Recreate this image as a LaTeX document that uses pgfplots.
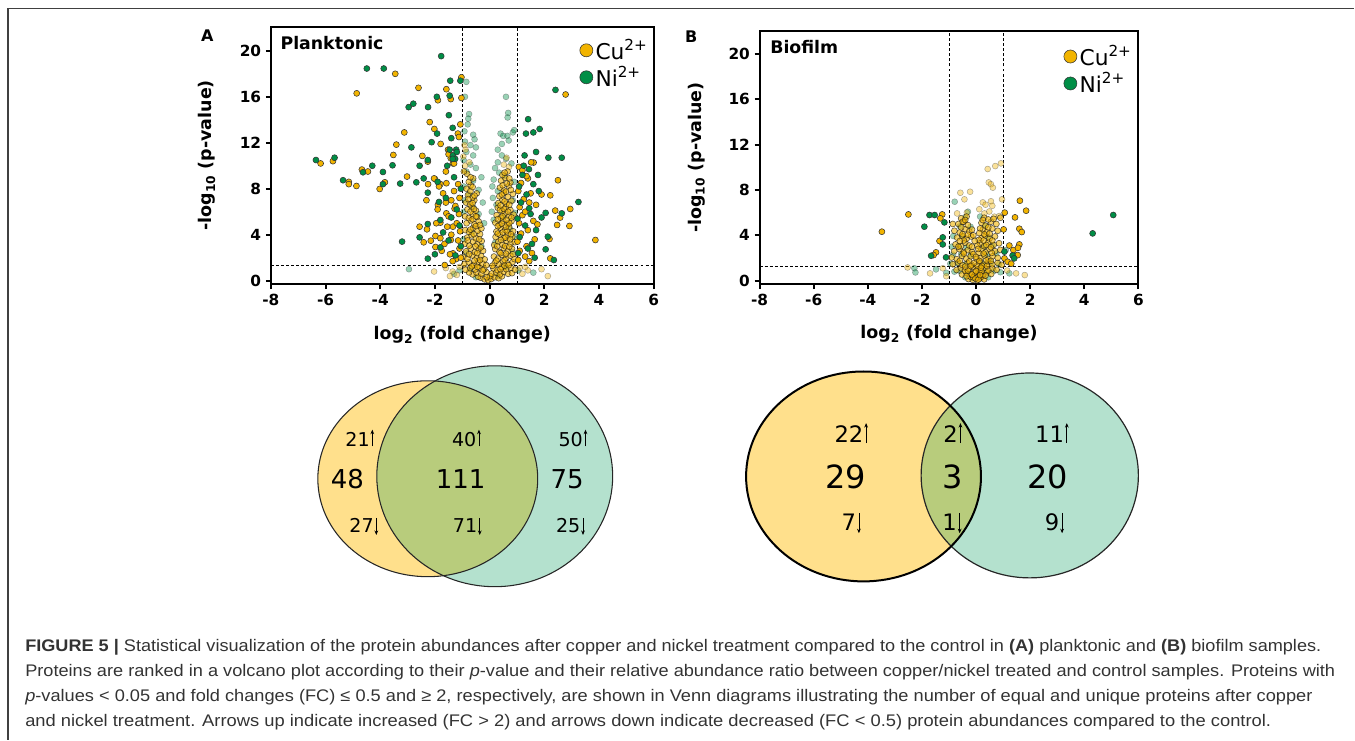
\documentclass[border=0pt]{standalone}
\usepackage{pgfplots}
\pgfplotsset{compat=1.18}
\usetikzlibrary{arrows.meta}
\usepackage{fontspec}
\setmainfont{Liberation Sans}
\newfontfamily\figfont{DejaVu Sans}
\definecolor{cuC}{RGB}{242,180,0}
\definecolor{niC}{RGB}{0,142,70}
\definecolor{vYel}{RGB}{255,224,140}
\definecolor{vTeal}{RGB}{180,225,206}
\definecolor{vOlive}{RGB}{184,204,124}
\newcommand\up{\hspace{0.04em}\tikz[baseline=0pt]\draw[line width=0.55pt,-{Stealth[length=3.4pt,width=2.8pt]}] (0,-0.02em)--(0,0.86em);}
\newcommand\dn{\hspace{0.04em}\tikz[baseline=0pt]\draw[line width=0.55pt,-{Stealth[length=3.4pt,width=2.8pt]}] (0,0.76em)--(0,-0.14em);}
% stretch one caption line to a given width (pt)
\newsavebox\capbox
\newcommand\fitline[2]{\sbox\capbox{#2}\pgfmathsetmacro\capsc{#1/\wd\capbox}\scalebox{\capsc}[1]{\usebox\capbox}}

\pgfplotsset{
  volc/.style={
    scale only axis,
    xmin=-8, xmax=6, ymin=-0.3,
    xtick={-8,-6,-4,-2,0,2,4,6}, xticklabels={-8,-6,-4,-2,0,2,4,6},
    ytick={0,4,8,12,16,20}, yticklabels={0,4,8,12,16,20},
    xtick pos=bottom, ytick pos=left,
    tick align=outside, major tick length=3.75pt,
    axis line style={line width=1.5pt},
    every tick/.style={line width=1.5pt, black},
    ticklabel style={font={\figfont\bfseries\fontsize{11.5}{13}\selectfont}},
    label style={font={\figfont\bfseries\fontsize{13.1}{15}\selectfont}},
    xlabel={log\textsubscript{2} (fold change)},
    ylabel={-log\textsubscript{10} (p-value)},
    xlabel style={at={(axis description cs:0.5,-0.197)}, anchor=center},
    ylabel style={at={(axis description cs:-0.167,0.5)}, anchor=center},
    legend style={draw=none, fill=none, anchor=north west,
      font={\figfont\fontsize{16.3}{18}\selectfont}, row sep=0pt,
      cells={anchor=west}},
    legend image code/.code={\draw[mark repeat=2,mark phase=2]
      plot coordinates {(0cm,0cm) (0.3cm,0cm) (0.44cm,0cm)};},
    legend image post style={mark size=4.9pt, opacity=1, fill opacity=1, draw opacity=1},
  },
  ns/.style={only marks, mark=*, mark size=2.25pt,
    mark options={draw=black!75, line width=0.35pt, fill=#1, fill opacity=0.4, draw opacity=0.45}},
  nsc/.style={only marks, mark=*, mark size=2.25pt,
    mark options={draw=black!90, line width=0.4pt, fill=#1, fill opacity=0.6, draw opacity=0.75}},
  sg/.style={only marks, mark=*, mark size=2.25pt,
    mark options={draw=black!80, line width=0.4pt, fill=#1}},
  thr/.style={black, line width=0.6pt, dash pattern=on 2.2pt off 1.6pt, forget plot},
}

\begin{document}
\begin{tikzpicture}[x=0.75pt,y=-0.75pt]
\path (0,0) rectangle (1355,740);
\draw[line width=1.1pt, black!75] (8,740) -- (8,8.5) -- (1355,8.5);

% ---------------- Panel A : planktonic ----------------
\begin{axis}[volc, at={(203.25pt,-213.225pt)}, anchor=south west,
  width=287.25pt, height=193.2pt, ymax=22.1,
  legend style={at={(axis description cs:0.796,0.972)}}]
\addplot[thr] coordinates {(-1,-0.3) (-1,22.1)};
\addplot[thr] coordinates {(1,-0.3) (1,22.1)};
\addplot[thr] coordinates {(-8,1.3) (6,1.3)};
% not significant, Ni
\addplot[ns=niC, forget plot] coordinates {
(-0.85,17.3)(-0.9,16.0)(-0.75,14.5)(-0.78,14.1)(-0.8,13.6)(-0.92,13.0)(-0.6,12.7)(-0.55,12.3)
(-0.9,12.1)(-0.7,11.8)(-0.5,11.6)(-0.85,11.2)(-0.6,10.9)(-0.95,10.5)(-0.7,10.1)(-0.5,9.8)(-0.85,9.5)
(0.6,16.0)(0.68,14.6)(0.66,14.2)(0.4,12.8)(0.5,12.6)(0.65,12.6)(0.7,12.2)(0.85,12.9)(0.9,13.1)
(0.45,11.9)(0.3,11.4)(0.45,10.9)(0.6,10.6)(0.3,10.3)(0.8,10.2)(0.2,9.8)(0.35,9.4)(0.55,9.1)
(0.15,8.8)(0.1,8.2)(0.3,7.8)(-0.3,9.0)(-0.6,8.7)(-0.95,8.2)(-0.4,7.9)(-0.75,7.5)(-0.9,7.0)
(-0.25,6.8)(-0.6,6.4)(-0.95,6.0)(0.12,7.2)(0.25,6.6)(0.08,6.0)(0.9,8.6)(0.85,7.0)(0.92,5.9)
(-0.5,0.3)(0.3,0.4)(-0.7,1.0)(0.6,1.2)(-0.85,2.4)(0.85,2.5)(-0.3,3.0)(0.2,3.3)(-0.65,4.2)
(0.75,4.5)(-0.2,5.0)(0.15,5.3)(-0.95,3.6)(0.95,3.8)(-0.4,5.8)(0.5,5.5)
(-2.95,1.0)(-1.1,0.9)(1.05,0.9)(-1.3,0.6)(1.6,0.7)};
% not significant, Cu, outside the core
\addplot[ns=cuC, forget plot] coordinates {
(-2.03,0.8)(1.9,1.0)(2.13,0.4)(1.4,0.9)(-1.6,1.1)(-1.35,0.8)(1.2,0.6)(-1.2,0.5)(1.1,1.1)(-1.1,1.2)(1.3,1.2)(-1.45,0.4)
(-0.96,10.8)(0.62,10.7)(-0.88,11.4)(-0.92,11.8)(-0.9,10.0)(-0.74,10.3)(0.52,10.1)(0.71,9.9)};
% not significant, Cu, core
\addplot[nsc=cuC, forget plot] coordinates {
(-0.32,0.25)(-0.18,0.12)(-0.05,0.05)(0.06,0.15)(0.18,0.3)(0.33,0.22)(-0.42,0.35)(0.45,0.38)(0.02,0.4)(-0.1,0.3)
(-0.62,0.55)(-0.48,0.7)(-0.3,0.6)(-0.12,0.75)(0.08,0.62)(0.24,0.7)(0.38,0.55)(0.52,0.78)(0.68,0.6)(-0.75,0.72)(0.82,0.66)
(-0.88,0.95)(-0.71,1.1)(-0.52,0.98)(-0.36,1.15)(-0.2,1.02)(0.14,1.08)(0.29,0.92)(0.44,1.18)(0.61,1.0)(0.78,1.12)(0.93,0.96)
(-0.92,1.45)(-0.76,1.6)(-0.57,1.38)(-0.41,1.66)(-0.26,1.5)(-0.12,1.35)(0.19,1.55)(0.34,1.42)(0.49,1.68)(0.66,1.5)(0.84,1.62)
(-0.96,2.05)(-0.81,1.9)(-0.63,2.2)(-0.47,1.95)(-0.31,2.15)(-0.18,1.85)(0.16,2.1)(0.31,1.92)(0.46,2.25)(0.61,2.0)(0.76,2.18)(0.91,1.88)
(-0.86,2.55)(-0.69,2.8)(-0.54,2.48)(-0.39,2.72)(-0.24,2.6)(0.21,2.75)(0.36,2.5)(0.52,2.85)(0.67,2.58)(0.82,2.78)
(-0.91,3.2)(-0.74,3.05)(-0.6,3.38)(-0.45,3.15)(-0.29,3.45)(0.17,3.1)(0.32,3.4)(0.47,3.12)(0.62,3.48)(0.77,3.22)(0.92,3.35)
(-0.82,3.75)(-0.66,3.95)(-0.5,3.68)(-0.35,4.05)(0.22,3.8)(0.37,4.02)(0.52,3.7)(0.67,3.98)(0.83,3.82)
(-0.89,4.4)(-0.75,4.25)(-0.6,4.6)(-0.44,4.35)(-0.3,4.55)(0.25,4.28)(0.4,4.62)(0.56,4.4)(0.71,4.68)(0.86,4.3)
(-0.84,5.0)(-0.69,5.25)(-0.55,4.9)(-0.4,5.15)(0.21,5.05)(0.36,4.85)(0.5,5.22)(0.65,4.95)(0.8,5.18)
(-0.9,5.6)(-0.76,5.45)(-0.61,5.8)(-0.46,5.55)(0.26,5.7)(0.41,5.48)(0.56,5.85)(0.71,5.6)(0.88,5.75)
(-0.81,6.2)(-0.66,6.45)(-0.5,6.1)(0.3,6.35)(0.45,6.05)(0.6,6.4)(0.76,6.15)
(-0.86,6.8)(-0.71,6.65)(-0.56,7.0)(0.32,6.75)(0.47,7.05)(0.62,6.7)(0.8,6.95)
(-0.79,7.45)(-0.62,7.25)(-0.47,7.6)(0.36,7.35)(0.52,7.62)(0.67,7.3)(0.85,7.55)
(-0.84,8.0)(-0.69,8.3)(0.38,8.1)(0.53,7.85)(0.71,8.25)
(-0.76,8.6)(-0.6,8.9)(0.42,8.7)(0.57,8.95)(0.76,8.55)
(-0.82,9.3)(-0.94,9.5)(0.47,9.2)(0.66,9.5)
(-0.25,0.9)(0.1,1.3)(-0.45,1.2)(0.4,1.0)(0.55,1.3)(-0.65,1.25)(0.7,1.35)(-0.35,1.8)(0.25,1.75)
(0.55,1.8)(-0.55,1.75)(0.85,2.3)(-0.75,2.3)(-0.45,2.4)(0.4,2.4)(0.6,2.35)(-0.32,2.9)(0.28,3.0)
(0.57,3.0)(-0.52,3.0)(0.72,2.95)(-0.8,3.5)(-0.38,3.6)(0.42,3.55)(0.58,3.75)(0.75,3.6)(-0.58,4.05)
(-0.7,4.45)(0.3,4.1)(0.48,4.2)(0.63,4.3)(0.78,4.05)(-0.5,4.75)(-0.35,4.85)(0.3,4.75)(0.45,4.95)
(0.6,4.7)(0.72,5.0)(-0.62,5.35)(-0.5,5.6)(0.3,5.35)(0.48,5.6)(0.62,5.3)(0.8,5.5)(-0.7,6.0)
(-0.57,6.25)(0.38,6.15)(0.52,6.25)(0.68,6.0)(-0.62,6.75)(-0.78,7.1)(0.4,6.55)(0.55,6.9)(0.72,6.6)
(-0.7,7.8)(-0.55,7.4)(0.45,7.5)(0.6,7.75)(0.78,7.9)(-0.62,8.15)(0.48,8.3)(0.63,8.45)(-0.7,9.0)
(0.55,9.4)(0.72,8.9)};
% significant, Cu
\addplot[sg=cuC] coordinates {
(-6.18,10.2)(-5.73,10.4)(-5.15,8.6)(-5.15,8.4)(-4.87,8.24)(-4.86,16.3)(-4.67,9.67)(-4.45,9.5)
(-4.02,7.98)(-3.83,8.56)(-3.45,18.0)(-3.41,11.84)(-3.52,10.94)(-3.12,12.9)(-3.02,9.06)(-2.6,16.78)
(-2.46,10.86)(-2.26,10.36)(-2.19,13.8)(-2.02,13.2)(-1.79,11.9)(-1.89,15.7)(-1.58,16.66)(-1.42,15.8)
(-1.03,17.7)(-1.03,15.9)(-1.07,13.6)(-2.25,8.4)(-2.0,8.85)(-2.31,7.0)(-2.56,4.7)(-2.29,4.47)
(-2.41,3.34)(-2.15,3.48)(-1.98,3.89)(-1.98,2.93)(-2.03,8.9)(-1.8,8.4)(-1.58,8.48)(-1.89,6.6)
(-1.4,7.0)(-1.58,5.86)(-1.28,6.27)(-1.8,5.05)(-1.34,4.7)(-1.42,3.54)(-1.34,2.38)(-1.22,1.89)
(-1.64,1.36)(-1.52,11.4)(-1.48,11.1)(-1.42,10.65)(-1.34,10.2)(-1.16,12.8)(-1.12,12.5)
(-1.05,2.0)(-1.1,2.8)(-1.15,3.5)(-1.08,4.3)(-1.2,5.0)(-1.12,5.8)(-1.25,6.5)(-1.1,7.2)(-1.3,7.8)
(-1.15,8.4)(-1.4,4.0)(-1.45,2.3)(-1.5,5.6)(-1.6,6.8)(-1.35,1.7)(-1.65,3.2)(-1.55,4.7)(-1.7,7.6)
(-1.75,2.6)(-1.85,8.2)(-1.9,6.2)(-1.95,5.0)(-1.8,3.7)(-1.6,9.5)(-1.3,10.2)(-1.5,11.0)
(2.78,16.2)(2.5,8.74)(2.22,7.43)(2.4,6.1)(2.95,6.24)(2.58,5.49)(2.47,4.85)(2.92,4.76)(3.87,3.54)
(2.19,3.63)(2.22,1.94)(1.61,10.28)(1.07,9.9)
(1.05,1.8)(1.1,2.6)(1.02,3.4)(1.15,4.1)(1.08,5.0)(1.2,5.7)(1.1,6.4)(1.25,7.1)(1.05,7.8)(1.15,8.5)
(1.3,2.1)(1.35,3.0)(1.4,4.4)(1.3,6.0)(1.45,6.8)(1.5,7.6)(1.4,8.9)(1.6,5.2)(1.65,3.6)(1.55,2.4)
(1.7,6.6)(1.75,4.9)(1.45,1.7)(1.2,9.6)(1.35,9.1)(1.52,10.3)(1.9,7.5)};
\addlegendentry{Cu\textsuperscript{2+}}
% significant, Ni
\addplot[sg=niC] coordinates {
(-6.35,10.5)(-5.67,10.7)(-5.36,8.74)(-4.49,18.46)(-3.87,18.46)(-4.29,10.0)(-4.63,9.43)(-3.9,9.46)
(-3.55,10.04)(-3.9,8.4)(-3.27,8.45)(-3.2,3.4)(-2.96,15.1)(-2.79,15.4)(-2.86,11.6)(-2.68,8.56)
(-2.56,10.0)(-2.25,15.1)(-2.12,12.05)(-1.92,12.8)(-1.93,16.0)(-1.77,19.54)(-1.46,16.1)(-1.49,14.4)
(-1.44,17.4)(-1.35,13.3)(-1.07,17.4)(-2.26,10.5)(-2.41,8.9)(-2.26,7.66)(-1.85,6.85)(-2.56,3.77)
(-2.26,4.93)(-2.26,1.92)(-1.8,5.28)(-2.0,2.3)(-1.46,11.4)(-1.22,11.4)(-1.34,10.9)(-1.26,10.6)
(-1.05,3.0)(-1.1,4.8)(-1.2,6.2)(-1.05,8.0)(-1.3,9.0)(-1.4,5.5)(-1.5,3.5)(-1.25,2.2)(-1.6,7.2)
(-1.7,4.2)(-1.8,2.9)(-1.35,10.6)(-1.55,10.0)(-1.2,11.2)(-1.4,12.4)(-1.9,8.6)
(1.41,14.05)(1.33,12.8)(1.6,12.9)(1.83,13.2)(2.41,16.6)(1.7,11.2)(2.15,10.7)(2.64,10.7)(1.28,10.9)
(1.77,9.2)(1.44,9.7)(3.25,6.85)(2.64,5.86)(2.05,5.9)(2.13,3.83)(2.05,2.73)(2.35,1.8)
(1.05,2.4)(1.1,3.8)(1.02,5.4)(1.15,6.8)(1.08,8.2)(1.2,9.2)(1.3,4.8)(1.35,7.5)(1.4,2.8)(1.5,5.8)
(1.25,10.0)(1.6,8.4)(1.55,3.2)(1.7,4.4)(1.45,6.3)(1.8,7.8)(1.65,2.0)(1.9,5.5)};
\addlegendentry{Ni\textsuperscript{2+}}
\end{axis}

% ---------------- Panel B : biofilm ----------------
\begin{axis}[volc, at={(570pt,-213.225pt)}, anchor=south west,
  width=284.25pt, height=189.98pt, ymax=22.0,
  legend style={at={(axis description cs:0.792,0.964)}}]
\addplot[thr] coordinates {(-1,-0.3) (-1,22)};
\addplot[thr] coordinates {(1,-0.3) (1,22)};
\addplot[thr] coordinates {(-8,1.3) (6,1.3)};
\addplot[ns=niC, forget plot] coordinates {
(-0.4,0.3)(-0.15,0.25)(0.2,0.35)(0.45,0.3)(-0.8,0.8)(-0.6,0.85)(-0.3,0.75)(0.35,0.8)(0.65,0.85)(0.9,0.75)
(-0.95,1.5)(-0.7,1.55)(-0.4,1.45)(0.25,1.5)(0.55,1.6)(0.85,1.45)(-0.85,2.3)(-0.55,2.35)(-0.2,2.25)
(0.4,2.3)(0.75,2.4)(-0.9,3.0)(-0.65,3.05)(-0.35,2.95)(0.3,3.0)(0.6,3.1)(-0.84,3.94)(-0.5,3.9)(0.45,3.85)
(-0.6,4.8)(-0.2,4.75)(0.35,4.85)(-0.4,5.6)(0.15,5.65)(-0.79,6.96)(-0.3,6.08)
(-2.28,1.1)(-2.24,0.73)(-1.48,1.0)(1.1,2.7)(1.23,0.65)(-1.1,0.7)};
\addplot[ns=cuC, forget plot] coordinates {
(0.43,9.84)(0.71,10.1)(0.92,10.34)(0.47,8.66)(0.55,8.5)(0.62,8.2)(-0.58,7.75)(-0.22,7.84)(-0.43,7.17)
(0.55,7.0)(0.96,7.17)(0.25,6.9)(0.35,6.7)(0.6,6.6)(-0.7,5.93)(-0.34,6.0)(0.12,6.3)(0.31,5.93)(0.49,6.1)
(0.68,5.64)(0.86,5.7)(-2.53,1.17)(-1.7,0.65)(-1.23,1.1)(1.8,0.5)(1.48,0.65)(-1.1,0.4)(1.15,0.9)};
\addplot[nsc=cuC, forget plot] coordinates {
(-0.28,0.15)(-0.12,0.08)(0.04,0.05)(0.14,0.2)(0.3,0.12)(-0.2,0.35)(0.22,0.38)
(-0.52,0.55)(-0.36,0.7)(-0.2,0.6)(0.1,0.72)(0.26,0.55)(0.41,0.75)(0.56,0.6)(-0.05,0.5)
(-0.72,0.95)(-0.56,1.1)(-0.41,0.9)(-0.26,1.05)(-0.1,1.2)(0.16,0.98)(0.31,1.15)(0.46,0.92)(0.61,1.1)(0.76,0.96)(0.05,1.0)
(-0.86,1.45)(-0.66,1.6)(-0.5,1.38)(-0.31,1.55)(-0.16,1.4)(0.14,1.6)(0.3,1.42)(0.45,1.65)(0.6,1.45)(0.8,1.58)(0.95,1.4)
(-0.9,2.05)(-0.71,1.9)(-0.52,2.2)(-0.36,1.95)(-0.2,2.15)(0.16,2.0)(0.31,2.22)(0.46,1.92)(0.61,2.15)(0.8,2.02)(0.02,1.9)
(-0.81,2.6)(-0.61,2.78)(-0.46,2.52)(-0.3,2.7)(-0.15,2.55)(0.2,2.75)(0.35,2.5)(0.5,2.8)(0.7,2.6)(0.9,2.72)
(-0.76,3.2)(-0.56,3.05)(-0.4,3.35)(-0.25,3.1)(0.15,3.3)(0.3,3.05)(0.45,3.4)(0.65,3.15)(0.85,3.3)
(-0.7,3.8)(-0.5,3.95)(-0.35,3.7)(-0.18,3.9)(0.2,3.75)(0.35,3.98)(0.5,3.72)(0.7,3.9)
(-0.8,4.4)(-0.6,4.25)(-0.4,4.55)(-0.25,4.35)(0.25,4.5)(0.4,4.28)(0.6,4.6)(0.8,4.4)
(-0.65,5.0)(-0.45,5.2)(-0.3,4.9)(0.2,5.1)(0.35,4.85)(0.55,5.2)(0.75,5.0)
(-0.55,5.5)(-0.35,5.65)(0.3,5.55)(0.45,5.4)(0.65,5.45)(0.9,5.55)(-0.86,5.0)(-0.49,5.2)
(-0.1,0.3)(0.08,0.35)(-0.35,0.4)(0.35,0.45)(-0.05,0.75)(0.2,0.85)(-0.3,0.9)(0.4,1.3)(-0.4,1.25)
(0.05,1.35)(0.22,1.3)(-0.25,1.7)(0.12,1.75)(0.38,1.8)(0.55,1.75)(-0.6,1.75)(-0.45,2.4)(-0.1,2.35)
(0.1,2.45)(0.28,2.4)(0.58,2.45)(-0.65,3.0)(-0.15,3.0)(0.05,3.1)(0.38,3.15)(0.55,2.95)(-0.45,3.55)
(-0.6,3.5)(0.1,3.6)(0.28,3.55)(0.6,3.55)(-0.5,4.1)(-0.3,4.05)(0.3,4.1)(0.5,4.15)(-0.55,4.7)
(0.45,4.7)(0.15,4.6)(-0.15,4.5)(0.25,5.35)(-0.4,5.35)
(-0.02,0.2)(0.09,0.1)(-0.15,0.55)(0.15,0.5)(0.0,0.85)(-0.08,1.55)(0.18,1.15)(-0.2,1.3)(0.0,2.1)
(0.08,2.8)(-0.05,3.5)(0.12,4.2)(-0.1,4.0)};
\addplot[sg=cuC] coordinates {
(-3.48,4.32)(-2.5,5.84)(-1.25,5.84)(-1.32,5.5)(-1.35,3.5)(-1.48,2.5)(-1.57,2.26)
(1.62,7.05)(1.85,6.17)(1.06,6.0)(1.44,5.58)(1.02,4.52)(1.6,4.58)(1.69,4.29)(1.6,3.2)(1.23,3.1)
(1.38,2.7)(1.54,2.26)(1.05,1.97)(1.17,1.67)(1.55,2.9)(1.3,1.5)};
\addlegendentry{Cu\textsuperscript{2+}}
\addplot[sg=niC] coordinates {
(5.07,5.79)(4.31,4.17)(-1.72,5.79)(-1.53,5.79)(-1.91,4.76)(-1.17,5.14)(-1.23,3.82)(-1.23,3.2)
(-1.66,2.2)(-1.11,2.06)(1.05,2.56)(1.35,2.23)(1.41,1.97)};
\addlegendentry{Ni\textsuperscript{2+}}
\end{axis}

% panel letters and titles
\node[font={\figfont\bfseries\fontsize{12}{14}\selectfont}] at (207.5,36) {A};
\node[font={\figfont\bfseries\fontsize{12}{14}\selectfont}] at (691.5,37) {B};
\node[anchor=west, font={\figfont\bfseries\fontsize{13}{15}\selectfont}] at (276,43.3) {Planktonic};
\node[anchor=west, font={\figfont\bfseries\fontsize{13}{15}\selectfont}] at (766,47.3) {Biofilm};

% ---------------- Venn A ----------------
\fill[vYel] (428,479) ellipse [x radius=110, y radius=98];
\fill[vTeal] (495,476.5) ellipse [x radius=118, y radius=110.5];
\begin{scope}
\clip (428,479) ellipse [x radius=110, y radius=98];
\fill[vOlive] (495,476.5) ellipse [x radius=118, y radius=110.5];
\end{scope}
\draw[line width=0.8pt, black!85] (428,479) ellipse [x radius=110, y radius=98];
\draw[line width=0.8pt, black!85] (495,476.5) ellipse [x radius=118, y radius=110.5];
\begin{scope}[every node/.style={font={\figfont\fontsize{14.3}{16}\selectfont}}]
\node at (360,438.3) {21\up};
\node at (364,526.7) {27\dn};
\node at (466.7,438.3) {40\up};
\node at (467.5,526.7) {71\dn};
\node at (573.3,438.3) {50\up};
\node at (570.8,526.7) {25\dn};
\end{scope}
\begin{scope}[every node/.style={font={\figfont\fontsize{19.5}{22}\selectfont}}]
\node at (347.5,479) {48};
\node at (460.8,479) {111};
\node at (567.5,479) {75};
\end{scope}

% ---------------- Venn B ----------------
\fill[vYel] (864,476.7) ellipse [x radius=117.5, y radius=105];
\fill[vTeal] (1030.3,475.7) ellipse [x radius=108.7, y radius=102.5];
\begin{scope}
\clip (864,476.7) ellipse [x radius=117.5, y radius=105];
\fill[vOlive] (1030.3,475.7) ellipse [x radius=108.7, y radius=102.5];
\end{scope}
\draw[line width=0.9pt, black!85] (1030.3,475.7) ellipse [x radius=108.7, y radius=102.5];
\draw[line width=1.5pt, black] (864,476.7) ellipse [x radius=117.5, y radius=105];
\begin{scope}[every node/.style={font={\figfont\fontsize{17}{19}\selectfont}}]
\node at (851.7,433.3) {22\up};
\node at (851.7,523.3) {7\dn};
\node at (953.3,433.3) {2\up};
\node at (952.5,523.3) {1\dn};
\node at (1052.5,433.3) {11\up};
\node at (1055,523.3) {9\dn};
\end{scope}
\begin{scope}[every node/.style={font={\figfont\fontsize{24}{26}\selectfont}}]
\node at (845.8,476.7) {29};
\node at (953.3,476.7) {3};
\node at (1048.3,476.7) {20};
\end{scope}

% ---------------- caption ----------------
\begin{scope}[every node/.style={anchor=base west, inner sep=0pt, text=black!80,
    font={\fontsize{12.6}{15}\selectfont}}]
\node at (25,651.7) {\fitline{972.5}{\textbf{FIGURE 5 |} Statistical visualization of the protein abundances after copper and nickel treatment compared to the control in \textbf{(A)} planktonic and \textbf{(B)} biofilm samples.}};
\node at (25,677.3) {\fitline{983}{Proteins are ranked in a volcano plot according to their \textit{p}-value and their relative abundance ratio between copper/nickel treated and control samples. Proteins with}};
\node at (25,702) {\fitline{966}{\textit{p}-values < 0.05 and fold changes (FC) ≤ 0.5 and ≥ 2, respectively, are shown in Venn diagrams illustrating the number of equal and unique proteins after copper}};
\node at (25,726.7) {\fitline{935}{and nickel treatment. Arrows up indicate increased (FC > 2) and arrows down indicate decreased (FC < 0.5) protein abundances compared to the control.}};
\end{scope}
\end{tikzpicture}
\end{document}
